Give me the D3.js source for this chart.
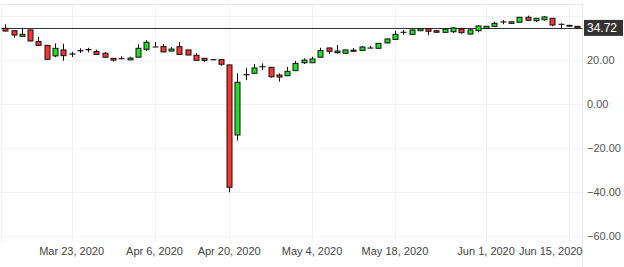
<!DOCTYPE html>
<html>
<head>
<meta charset="utf-8">
<script src="https://cdn.jsdelivr.net/npm/d3@7"></script>
<style>
  body { margin: 0; background: #fff; }
  svg { display: block; font-family: "Liberation Sans", Arial, sans-serif; }
</style>
</head>
<body>
<div class="canvas"></div>
<script>
const dates = [
  'Mar 11','Mar 12','Mar 13','Mar 16','Mar 17','Mar 18','Mar 19','Mar 20',
  'Mar 23','Mar 24','Mar 25','Mar 26','Mar 27','Mar 30','Mar 31','Apr 1','Apr 2','Apr 3',
  'Apr 6','Apr 7','Apr 8','Apr 9','Apr 13','Apr 14','Apr 15','Apr 16','Apr 17',
  'Apr 20','Apr 21','Apr 22','Apr 23','Apr 24','Apr 27','Apr 28','Apr 29','Apr 30','May 1',
  'May 4','May 5','May 6','May 7','May 8','May 11','May 12','May 13','May 14','May 15',
  'May 18','May 19','May 20','May 21','May 22','May 25','May 26','May 27','May 28','May 29',
  'May 31','Jun 1','Jun 2','Jun 3','Jun 4','Jun 5','Jun 8','Jun 9','Jun 10','Jun 11','Jun 12',
  'Jun 15','Jun 16'
];

const open = [
  34.55,33.45,30.9,33.8,28.6,26.8,22.0,24.7,22.9,24.4,24.8,24.0,23.2,20.9,20.7,20.2,21.4,25.0,
  26.05,26.2,24.2,26.2,24.7,22.3,20.9,20.3,20.3,17.9,-13.95,13.5,14.1,17.1,16.8,13.3,13.0,15.3,18.9,
  18.9,21.4,25.6,23.45,23.2,24.1,24.5,25.6,25.45,27.9,29.5,32.7,31.8,33.45,34.35,33.45,32.7,33.0,34.2,31.95,
  33.45,34.5,35.45,37.4,36.8,37.3,39.55,38.0,38.45,39.1,36.35,35.9,35.45
];
const high = [
  36.4,33.6,34.5,34.0,30.6,27.0,27.7,27.5,23.9,25.5,25.7,24.8,23.8,21.0,21.8,21.6,27.3,29.1,
  28.3,27.4,26.0,28.2,24.8,23.3,21.0,20.6,20.4,18.0,14.1,16.6,18.3,18.6,17.0,14.1,17.0,19.7,20.9,
  21.6,25.7,25.7,26.95,24.9,25.6,26.5,26.5,27.9,29.9,33.45,33.8,34.0,34.5,34.5,33.6,34.4,35.1,34.8,34.35,
  36.05,35.6,37.5,38.3,37.6,39.7,40.3,39.2,40.1,39.2,36.8,36.0,35.5
];
const low = [
  33.1,30.3,30.7,28.6,26.6,20.2,21.4,19.8,21.5,23.3,23.6,22.6,21.2,19.4,20.5,20.2,21.3,24.2,
  26.0,23.7,24.1,22.6,22.3,19.9,19.2,20.0,17.5,-40.0,-16.5,11.0,13.9,15.6,12.1,10.3,12.8,15.2,18.3,
  18.8,21.3,22.9,23.0,23.1,24.0,24.4,25.5,25.3,27.7,29.4,31.6,31.6,33.3,31.4,32.6,32.5,32.4,32.1,31.6,
  32.7,34.4,35.3,36.4,36.7,37.2,38.1,37.4,38.0,35.45,34.55,35.4,34.6
];
const close = [
  33.3,31.5,31.8,28.8,26.8,20.45,25.45,22.1,22.8,24.3,24.9,22.7,21.4,20.1,20.75,21.0,25.45,28.2,
  26.05,23.8,25.1,22.7,22.4,20.0,20.0,20.25,18.2,-37.7,10.0,13.4,16.5,17.05,12.5,12.4,15.0,18.6,20.1,
  20.6,24.4,24.1,24.2,24.7,24.6,26.05,25.55,27.7,29.7,31.8,32.75,33.8,34.35,33.2,32.75,34.2,34.7,32.55,33.8,
  35.6,35.45,36.8,37.45,37.5,39.55,38.2,39.1,39.7,36.05,36.35,35.5,34.72
];

const xTickDates = ['Mar 23','Apr 6','Apr 20','May 4','May 18','Jun 1','Jun 15'];
const yTickValues = [20, 0, -20, -40, -60];
const yGridValues = [40, 20, 0, -20, -40, -60];
const lastPrice = 34.72;

const width = 624, height = 267;
const plot = { left: 1.5, right: 582.5, top: 4.5, bottom: 242 };

const data = dates.map((d, i) => ({ date: d, open: open[i], high: high[i], low: low[i], close: close[i] }));

const svg = d3.select('.canvas')
    .append('svg')
    .attr('width', width)
    .attr('height', height);

const x = d3.scaleBand()
    .domain(dates)
    .range([1.15, 581.45]);

const y = d3.scaleLinear()
    .domain([-60, 40])
    .range([236.3, 16.3]);

// grid
svg.append('g')
  .selectAll('line')
  .data(yGridValues)
  .enter().append('line')
    .attr('x1', plot.left).attr('x2', plot.right)
    .attr('y1', d => Math.round(y(d)) + 0.5).attr('y2', d => Math.round(y(d)) + 0.5)
    .attr('stroke', '#f2f3f5');

svg.append('g')
  .selectAll('line')
  .data(xTickDates)
  .enter().append('line')
    .attr('x1', d => Math.round(x(d) + x.bandwidth() / 2) + 0.5)
    .attr('x2', d => Math.round(x(d) + x.bandwidth() / 2) + 0.5)
    .attr('y1', plot.top).attr('y2', plot.bottom)
    .attr('stroke', '#f2f3f5');

// border
svg.append('line')
    .attr('x1', plot.left).attr('x2', plot.right)
    .attr('y1', plot.top).attr('y2', plot.top)
    .attr('stroke', '#e3e6ec');
svg.append('line')
    .attr('x1', plot.left).attr('x2', plot.left)
    .attr('y1', plot.top).attr('y2', plot.bottom)
    .attr('stroke', '#eef0f3');
svg.append('line')
    .attr('x1', plot.right).attr('x2', plot.right)
    .attr('y1', plot.top).attr('y2', height)
    .attr('stroke', '#e3e6ec');

// last price line
svg.append('line')
    .attr('x1', plot.left).attr('x2', plot.right)
    .attr('y1', Math.round(y(lastPrice)) + 0.5).attr('y2', Math.round(y(lastPrice)) + 0.5)
    .attr('stroke', '#333')
    .attr('stroke-width', 1);

// candles
const candles = svg.append('g')
  .selectAll('g')
  .data(data)
  .enter().append('g')
    .attr('transform', d => `translate(${Math.round(x(d.date) + x.bandwidth() / 2) + 0.5}, 0)`);

candles.append('line')
    .attr('y1', d => y(d.high))
    .attr('y2', d => y(d.low))
    .attr('stroke', '#111')
    .attr('stroke-width', 1);

candles.append('rect')
    .attr('x', -2.5)
    .attr('width', 5)
    .attr('y', d => y(Math.max(d.open, d.close)))
    .attr('height', d => Math.max(0.01, Math.abs(y(d.open) - y(d.close))))
    .attr('fill', d => d.close >= d.open ? '#22dd22' : '#ff3333')
    .attr('stroke', '#111')
    .attr('stroke-width', 1);

// right axis labels
svg.append('g')
  .selectAll('text')
  .data(yTickValues)
  .enter().append('text')
    .attr('x', 587)
    .attr('y', d => y(d))
    .attr('dy', '0.35em')
    .attr('font-size', 11)
    .attr('fill', '#555')
    .text(d => d3.format('.2f')(d));

// last price tag
const tagY = y(lastPrice);
svg.append('rect')
    .attr('x', 584)
    .attr('y', tagY - 8)
    .attr('width', 39)
    .attr('height', 16)
    .attr('fill', '#333');
svg.append('text')
    .attr('x', 587)
    .attr('y', tagY)
    .attr('dy', '0.36em')
    .attr('font-size', 12)
    .attr('fill', '#fff')
    .text(d3.format('.2f')(lastPrice));

// bottom axis labels
svg.append('g')
  .selectAll('text')
  .data(xTickDates)
  .enter().append('text')
    .attr('x', (d, i) => i === xTickDates.length - 1 ? plot.right : x(d) + x.bandwidth() / 2)
    .attr('y', 251)
    .attr('dy', '0.35em')
    .attr('text-anchor', (d, i) => i === xTickDates.length - 1 ? 'end' : 'middle')
    .attr('font-size', 11)
    .attr('fill', '#444')
    .text(d => d + ', 2020');
</script>
</body>
</html>
